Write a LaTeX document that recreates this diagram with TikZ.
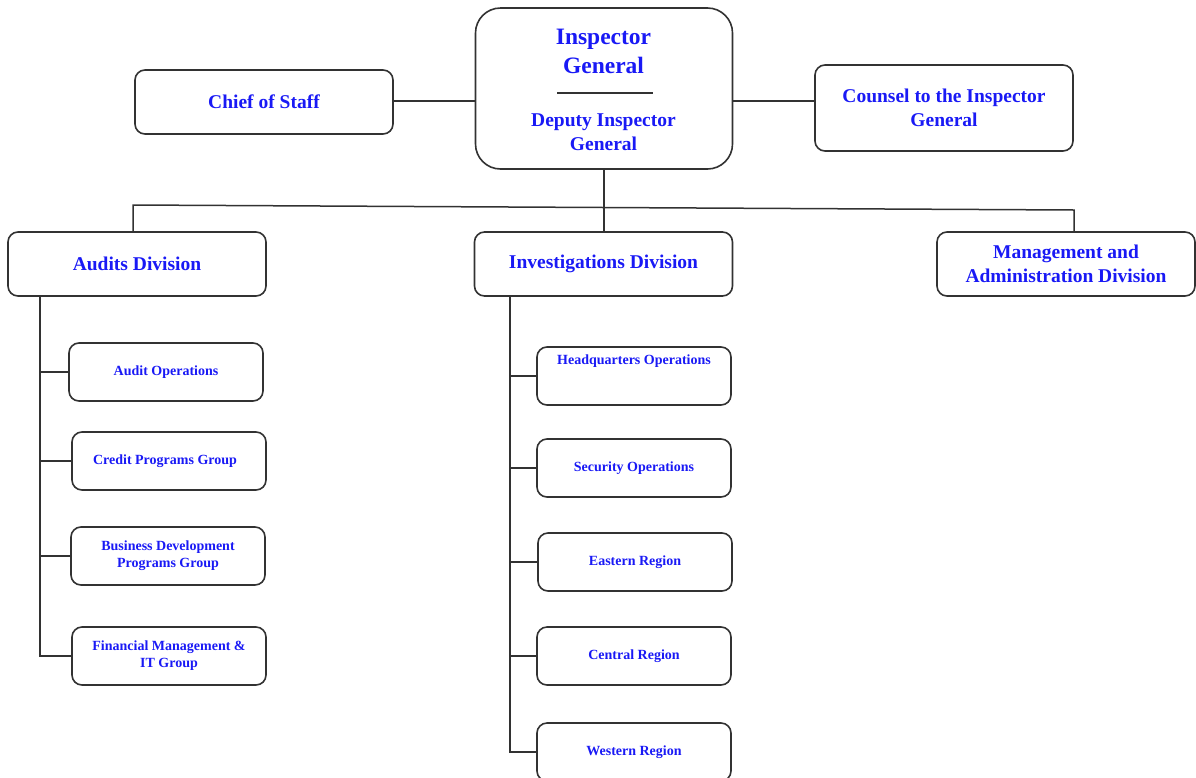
\documentclass[tikz,border=0pt]{standalone}
\usepackage{fontspec}
\setmainfont{Liberation Serif}
\definecolor{txtblue}{RGB}{25,25,245}
\definecolor{edge}{RGB}{50,50,50}
\tikzset{
  box/.style={draw=edge, line width=1.6pt, rounded corners=10pt, align=center,
    text=txtblue, font=\bfseries\fontsize{19.5}{23.5}\selectfont, inner sep=0pt},
  small/.style={box, font=\bfseries\fontsize{14}{17}\selectfont, minimum width=194pt, minimum height=58pt},
  mid/.style={box, minimum width=258pt, minimum height=64pt},
  conn/.style={draw=edge, line width=1.5pt},
}
\begin{document}
\begin{tikzpicture}[x=1pt,y=-1pt]
\useasboundingbox (0,0) rectangle (1196,777);
% top row
\node[box, rounded corners=25pt, minimum width=257pt, minimum height=161pt] (ig) at (604,88.5) {};
\node[text=txtblue, font=\bfseries\fontsize{23.5}{29}\selectfont, align=center] (igt) at (603.5,51.5) {Inspector\\General};
\node[text=txtblue, font=\bfseries\fontsize{19.5}{24}\selectfont, align=center] (dig) at (603.5,132) {Deputy Inspector\\General};
\coordinate (sepL) at (557,93);
\coordinate (sepR) at (653,93);
\draw[conn] (sepL) -- (sepR);
\node[mid] (cos) at (264,102) {Chief of Staff};
\node[mid, minimum height=86pt] (cig) at (944,108) {Counsel to the Inspector\\General};
\coordinate (yl) at (0,101);
\draw[conn] (cos.east |- yl) -- (ig.west |- yl);
\draw[conn] (ig.east |- yl) -- (cig.west |- yl);
% divisions
\node[mid] (aud) at (137,264) {Audits Division};
\node[mid] (inv) at (603.5,264) {Investigations Division};
\node[mid] (mgt) at (1066,264) {Management and\\Administration Division};
\coordinate (L) at (133,205);
\coordinate (R) at (1074,210);
\draw[conn] (ig.south) -- (ig.south |- inv.north);
\draw[conn] (L |- aud.north) -- (L) -- (R) -- (R |- mgt.north);
% audits branches
\node[small] (ao) at (166,372) {Audit Operations};
\node[small] (cp) at (169,461) {\hspace*{-8pt}Credit Programs Group};
\node[small] (bd) at (168,556) {Business Development\\Programs Group};
\node[small] (fm) at (169,656) {Financial Management \&\\IT Group};
\coordinate (as) at (40,296);
\draw[conn] (as) |- (fm.west);
\draw[conn] (as |- ao.west) -- (ao.west);
\draw[conn] (as |- cp.west) -- (cp.west);
\draw[conn] (as |- bd.west) -- (bd.west);
% investigations branches
\node[small] (hq) at (634,376) {};
\node[text=txtblue, font=\bfseries\fontsize{14}{17}\selectfont] (hqt) at (634,361) {Headquarters Operations};
\node[small] (so) at (634,468) {Security Operations};
\node[small] (er) at (635,562) {Eastern Region};
\node[small] (cr) at (634,656) {Central Region};
\node[small] (wr) at (634,752) {Western Region};
\coordinate (is) at (510,296);
\draw[conn] (is) |- (wr.west);
\draw[conn] (is |- hq.west) -- (hq.west);
\draw[conn] (is |- so.west) -- (so.west);
\draw[conn] (is |- er.west) -- (er.west);
\draw[conn] (is |- cr.west) -- (cr.west);
\end{tikzpicture}
\end{document}
